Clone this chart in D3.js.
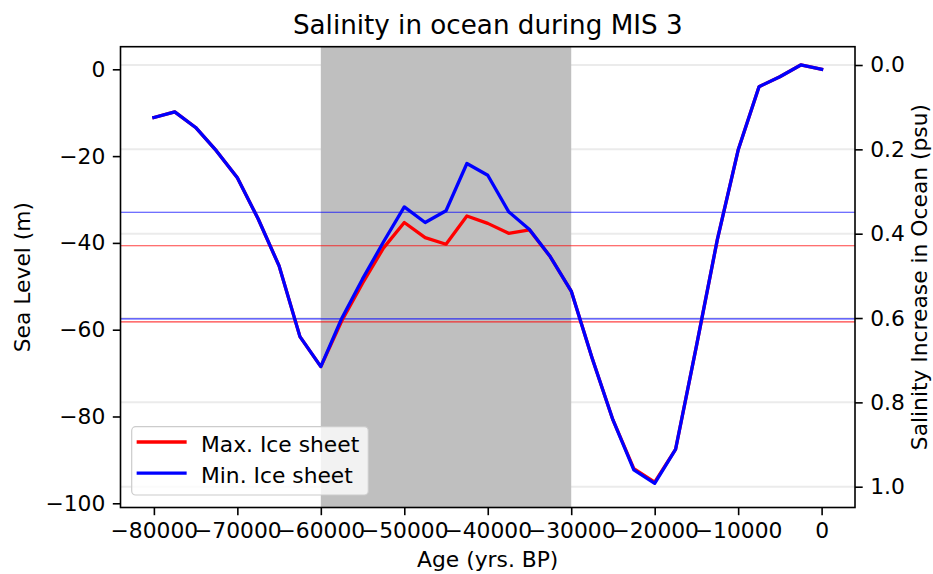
<!DOCTYPE html>
<html>
<head>
<meta charset="utf-8">
<script src="https://cdn.jsdelivr.net/npm/d3@7"></script>
<style>
  html, body { margin: 0; padding: 0; background: #fff; }
  svg { display: block; font-family: "DejaVu Sans", sans-serif; }
</style>
</head>
<body>
<svg id="chart" width="933" height="574"></svg>
<script>
// Age in years before present (negative = past)
const ages = [-80000, -77500, -75000, -72500, -70000, -67500, -65000, -62500, -60000,
              -57500, -55000, -52500, -50000, -47500, -45000, -42500, -40000, -37500,
              -35000, -32500, -30000, -27500, -25000, -22500, -20000, -17500, -15000,
              -12500, -10000, -7500, -5000, -2500, 0];

// Sea level (m) for the maximum ice-sheet scenario
const seaLevelMax = [-11.1, -9.8, -13.4, -18.8, -25.0, -34.5, -45.3, -61.6, -68.5,
                     -58.0, -49.3, -41.2, -35.3, -38.8, -40.3, -33.8, -35.5, -37.8,
                     -37.0, -43.2, -51.1, -66.5, -80.8, -92.0, -95.1, -87.6, -63.8,
                     -39.3, -18.6, -4.0, -1.7, 1.0, 0.0];

// Sea level (m) for the minimum ice-sheet scenario
const seaLevelMin = [-11.1, -9.8, -13.4, -18.8, -25.0, -34.5, -45.3, -61.6, -68.5,
                     -57.4, -48.3, -39.8, -31.7, -35.3, -32.6, -21.7, -24.4, -32.8,
                     -36.9, -43.2, -51.1, -66.5, -80.8, -92.3, -95.4, -87.6, -63.8,
                     -39.3, -18.6, -4.0, -1.7, 1.0, 0.0];

// Reference sea levels (m) for each scenario
const refLevelsMax = [-40.65, -58.2];
const refLevelsMin = [-32.95, -57.5];

// MIS 3 interval
const mis3 = [-60000, -30000];

// Tick values
const xTicks = [-80000, -70000, -60000, -50000, -40000, -30000, -20000, -10000, 0];
const yTicksLeft = [0, -20, -40, -60, -80, -100];
const yTicksRight = [0.0, 0.2, 0.4, 0.6, 0.8, 1.0];

const seriesNames = ["Max. Ice sheet", "Min. Ice sheet"];
const seriesColors = ["#ff0000", "#0000ff"];

const svg = d3.select("#chart");
const plot = { left: 120.5, right: 855, top: 46.7, bottom: 507.5 };
const FS = 21.8;

const x = d3.scaleLinear().domain([-84000, 4000]).range([plot.left, plot.right]);
const yL = d3.scaleLinear().domain([-100.97, 5.21]).range([plot.bottom, plot.top]);
const yR = d3.scaleLinear().domain([1.0493, -0.0434]).range([plot.bottom, plot.top]);

const minus = s => s.replace(/-/g, "\u2212");

// light grid at the salinity ticks
svg.append("g").selectAll("line").data(yTicksRight).join("line")
  .attr("x1", plot.left).attr("x2", plot.right)
  .attr("y1", d => yR(d)).attr("y2", d => yR(d))
  .attr("stroke", "#b0b0b0").attr("stroke-opacity", 0.25).attr("stroke-width", 2);

// MIS 3 shading
svg.append("rect")
  .attr("x", x(mis3[0])).attr("y", plot.top)
  .attr("width", x(mis3[1]) - x(mis3[0])).attr("height", plot.bottom - plot.top)
  .attr("fill", "#bfbfbf");

// reference levels
const refs = [
  ...refLevelsMin.map(v => ({ v, c: seriesColors[1] })),
  ...refLevelsMax.map(v => ({ v, c: seriesColors[0] }))
];
svg.append("g").selectAll("line").data(refs).join("line")
  .attr("x1", plot.left).attr("x2", plot.right)
  .attr("y1", d => yL(d.v)).attr("y2", d => yL(d.v))
  .attr("stroke", d => d.c).attr("stroke-opacity", 0.75).attr("stroke-width", 1.1);

// sea level curves
const line = d3.line().x((d, i) => x(ages[i])).y(d => yL(d));
[seaLevelMax, seaLevelMin].forEach((vals, k) => {
  svg.append("path").datum(vals)
    .attr("d", line)
    .attr("fill", "none")
    .attr("stroke", seriesColors[k])
    .attr("stroke-width", 3.3)
    .attr("stroke-linejoin", "round")
    .attr("stroke-linecap", "square");
});

// axes
const tickLen = 7.7, tickPad = 7.5;
const xAxis = d3.axisBottom(x).tickValues(xTicks).tickSize(tickLen).tickPadding(tickPad)
  .tickFormat(d => minus(d3.format("d")(d)));
const yAxisL = d3.axisLeft(yL).tickValues(yTicksLeft).tickSize(tickLen).tickPadding(tickPad)
  .tickFormat(d => minus(d3.format("d")(d)));
const yAxisR = d3.axisRight(yR).tickValues(yTicksRight).tickSize(tickLen).tickPadding(tickPad)
  .tickFormat(d3.format(".1f"));

function styleAxis(g) {
  g.select(".domain").remove();
  g.selectAll(".tick line").attr("stroke", "#000").attr("stroke-width", 1.6);
  g.selectAll(".tick text").attr("fill", "#000").style("font-size", FS + "px")
    .style("font-family", "DejaVu Sans");
}
svg.append("g").attr("transform", `translate(0,${plot.bottom})`).call(xAxis).call(styleAxis);
svg.append("g").attr("transform", `translate(${plot.left},0)`).call(yAxisL).call(styleAxis);
svg.append("g").attr("transform", `translate(${plot.right},0)`).call(yAxisR).call(styleAxis);

// frame
svg.append("rect")
  .attr("x", plot.left).attr("y", plot.top)
  .attr("width", plot.right - plot.left).attr("height", plot.bottom - plot.top)
  .attr("fill", "none").attr("stroke", "#000").attr("stroke-width", 1.6);

// title and axis labels
const cx = (plot.left + plot.right) / 2, cy = (plot.top + plot.bottom) / 2;
svg.append("text").attr("x", cx).attr("y", 34.3).attr("text-anchor", "middle")
  .style("font-size", "26.2px").text("Salinity in ocean during MIS 3");
svg.append("text").attr("x", cx).attr("y", 567).attr("text-anchor", "middle")
  .style("font-size", FS + "px").text("Age (yrs. BP)");
svg.append("text").attr("transform", `translate(30,${cy}) rotate(-90)`)
  .attr("text-anchor", "middle").style("font-size", FS + "px").text("Sea Level (m)");
svg.append("text").attr("transform", `translate(926.5,${cy}) rotate(-90)`)
  .attr("text-anchor", "middle").style("font-size", FS + "px")
  .text("Salinity Increase in Ocean (psu)");

// legend
const lg = svg.append("g");
lg.append("rect").attr("x", 131.7).attr("y", 426.7).attr("width", 236.6).attr("height", 68.3)
  .attr("rx", 4).attr("fill", "#fff").attr("fill-opacity", 0.8)
  .attr("stroke", "#cccccc").attr("stroke-width", 1.2);
seriesNames.forEach((name, i) => {
  const yy = 442 + i * 31.2;
  lg.append("line").attr("x1", 138.3).attr("x2", 185).attr("y1", yy).attr("y2", yy)
    .attr("stroke", seriesColors[i]).attr("stroke-width", 3.3).attr("stroke-linecap", "square");
  lg.append("text").attr("x", 201).attr("y", yy + 9.5).style("font-size", FS + "px").text(name);
});
</script>
</body>
</html>
